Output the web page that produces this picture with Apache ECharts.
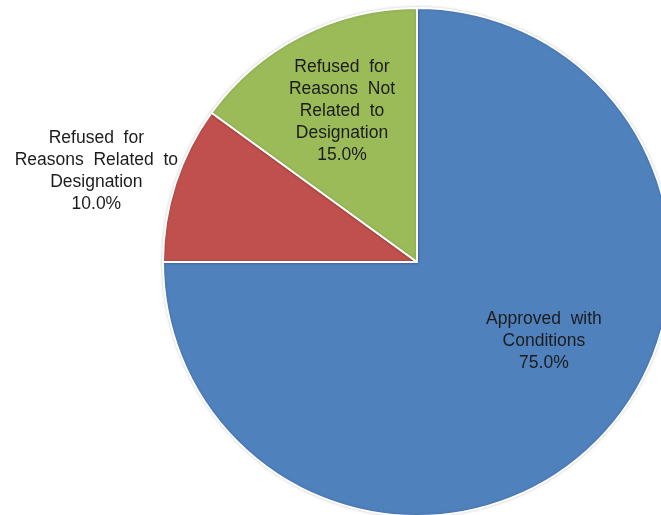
<!DOCTYPE html>
<html>
<head>
<meta charset="utf-8">
<script src="https://cdn.jsdelivr.net/npm/echarts@6/dist/echarts.min.js"></script>
<style>
  html, body { margin: 0; padding: 0; background: #ffffff; }
  #chart { width: 661px; height: 515px; }
</style>
</head>
<body>
<div id="chart"></div>
<script>
// Planning decisions by outcome (share of all decisions, %)
const categories = [
  'Approved with Conditions',
  'Refused for Reasons Related to Designation',
  'Refused for Reasons Not Related to Designation'
];
const values = [75, 10, 15];
// Wrapped label lines for each slice
const labelLines = [
  ['Approved  with', 'Conditions'],
  ['Refused  for', 'Reasons  Related  to', 'Designation'],
  ['Refused  for', 'Reasons  Not', 'Related  to', 'Designation']
];
const colors = ['#4F81BD', '#C0504D', '#9BBB59'];
// Label nudges away from the default inside anchor
const labelOffsets = [[35, -13], [-197, -51], [-16, -35]];

const chart = echarts.init(document.getElementById('chart'), null, { renderer: 'canvas' });

const data = categories.map((name, i) => ({
  name: name,
  value: values[i],
  itemStyle: { color: colors[i] },
  label: { offset: labelOffsets[i] }
}));

chart.setOption({
  animation: false,
  backgroundColor: '#ffffff',
  series: [{
    type: 'pie',
    center: [417, 262],
    radius: [0, 254],
    startAngle: 90,
    clockwise: true,
    silent: true,
    avoidLabelOverlap: false,
    itemStyle: {
      borderColor: '#ffffff',
      borderWidth: 2,
      shadowBlur: 3,
      shadowColor: 'rgba(0,0,0,0.18)'
    },
    label: {
      show: true,
      position: 'inside',
      fontFamily: 'Liberation Sans, Arial, sans-serif',
      fontSize: 17.5,
      lineHeight: 22,
      color: '#1c1c1c',
      align: 'center',
      formatter: function (p) {
        return labelLines[p.dataIndex].join('\n') + '\n' + p.percent.toFixed(1) + '%';
      }
    },
    labelLine: { show: false },
    emphasis: { disabled: true },
    data: data
  }]
});
</script>
</body>
</html>
